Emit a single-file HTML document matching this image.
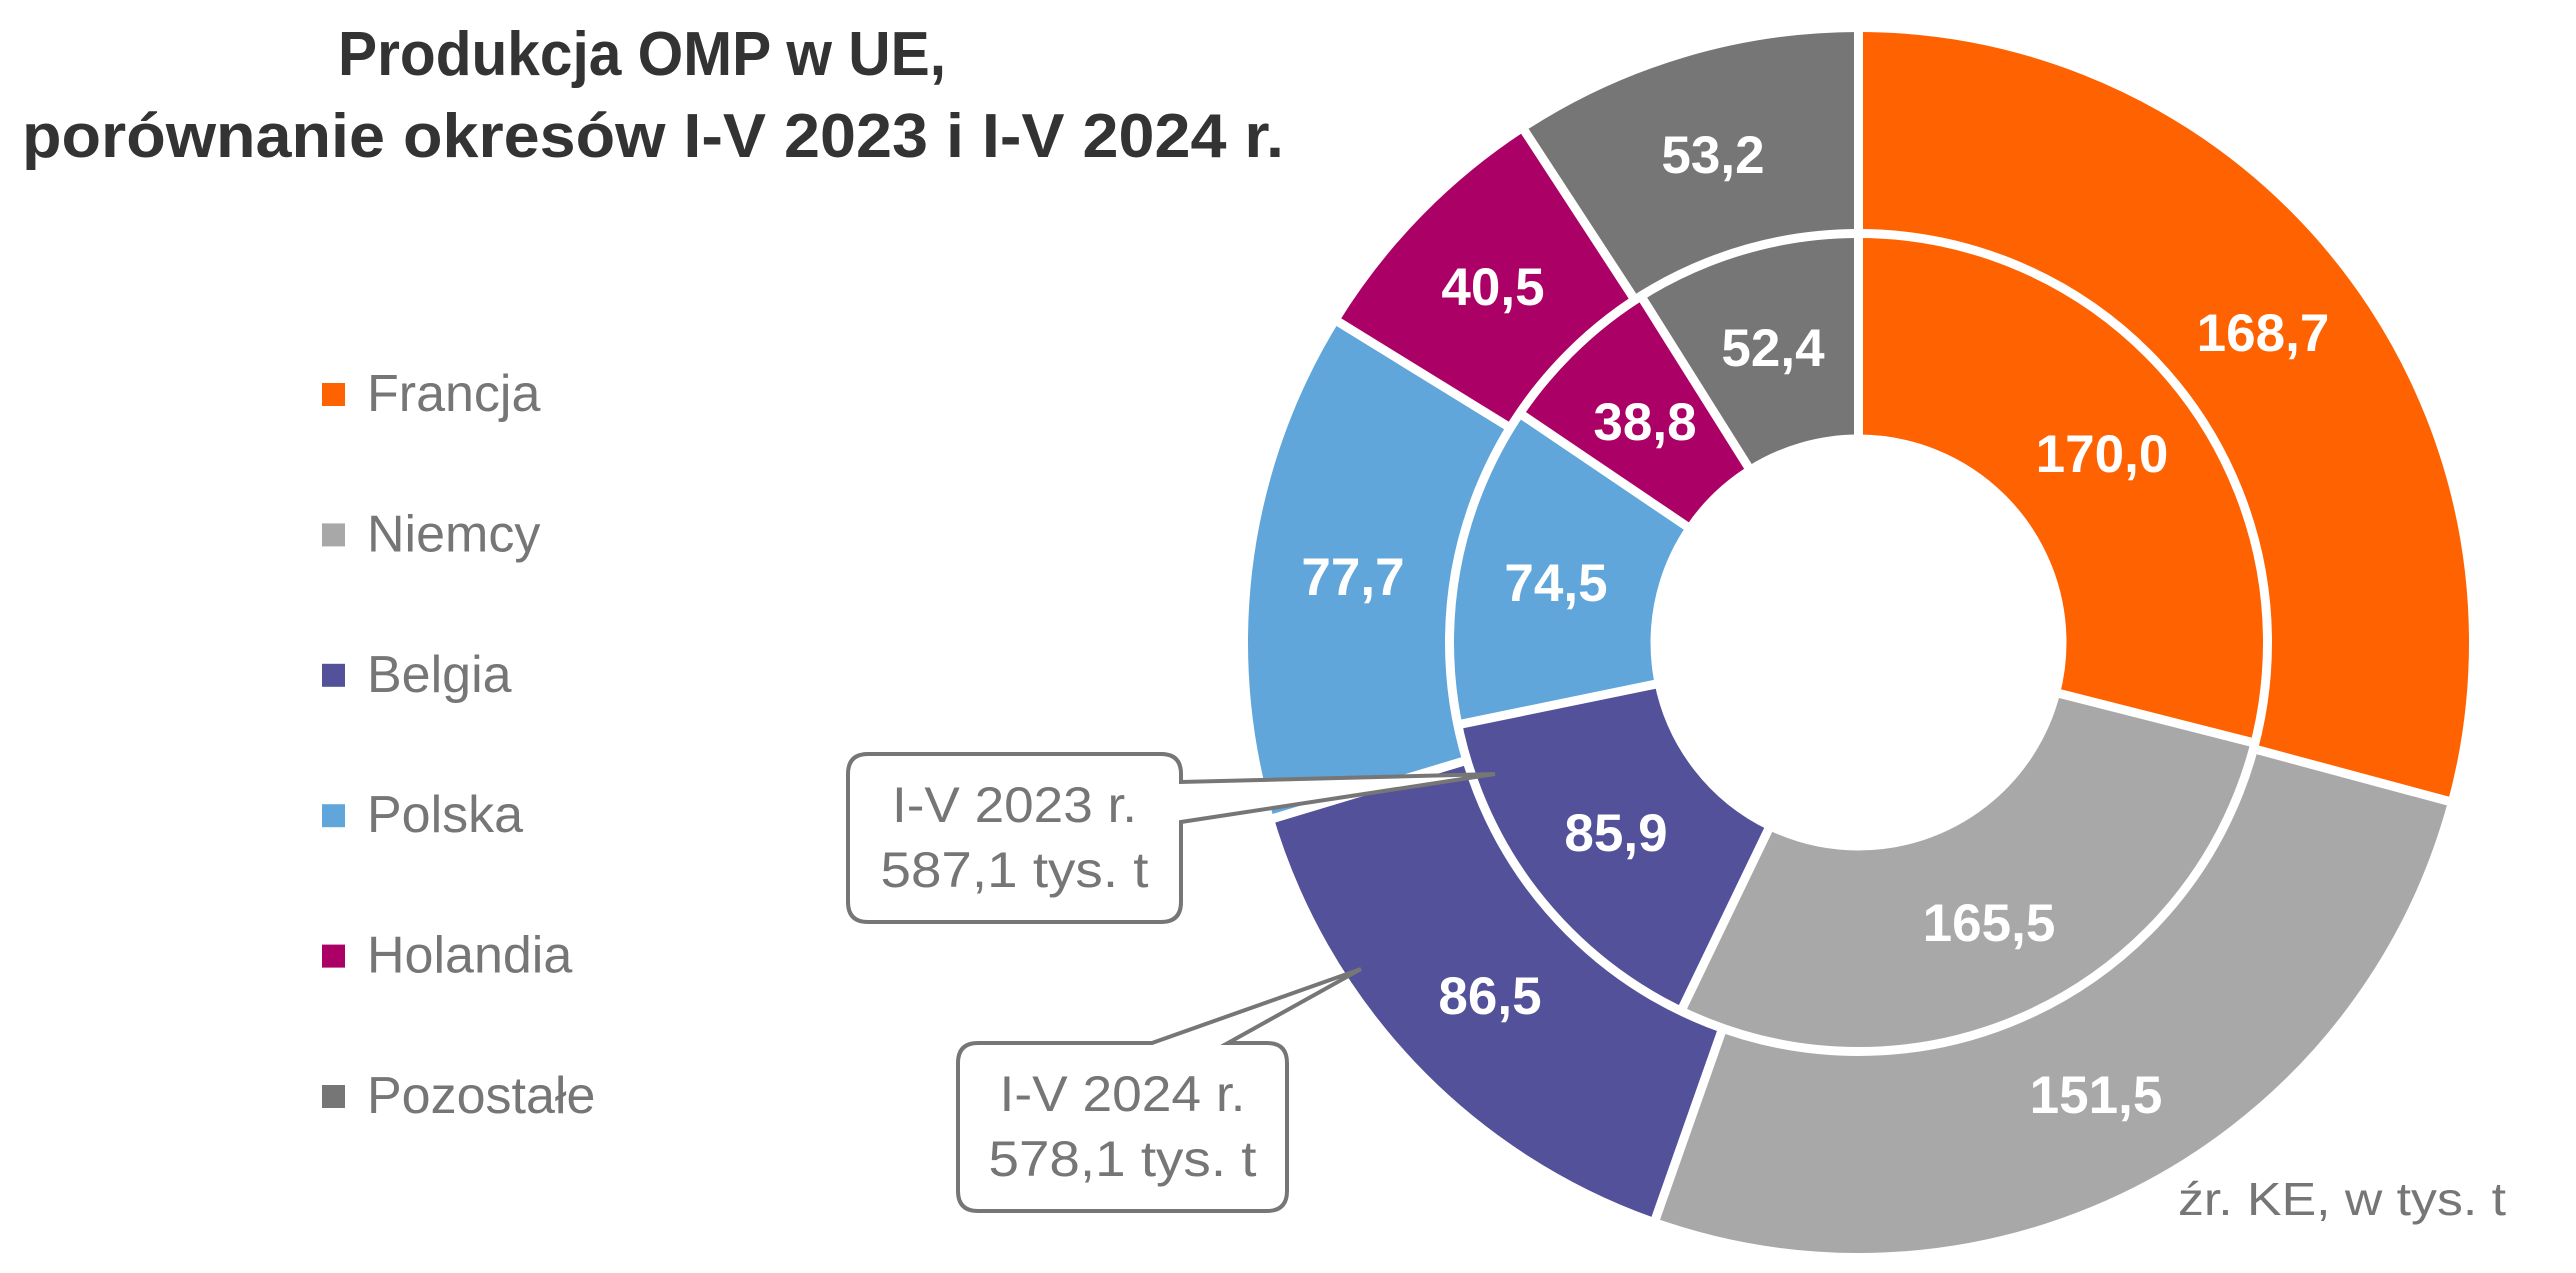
<!DOCTYPE html>
<html>
<head>
<meta charset="utf-8">
<style>
  html, body { margin:0; padding:0; background:#ffffff; width:2576px; height:1273px; overflow:hidden; }
  svg { display:block; }
  text { font-family: "Liberation Sans", "DejaVu Sans", sans-serif; }
</style>
</head>
<body>
<svg width="2576" height="1273" viewBox="0 0 2576 1273" xmlns="http://www.w3.org/2000/svg">
  <rect x="0" y="0" width="2576" height="1273" fill="#ffffff"/>

  <!-- Title -->
  <text x="338" y="75" font-size="62" font-weight="bold" fill="#333333" textLength="608" lengthAdjust="spacingAndGlyphs">Produkcja OMP w UE,</text>
  <text x="22" y="157" font-size="62" font-weight="bold" fill="#333333" textLength="1262" lengthAdjust="spacingAndGlyphs">porównanie okresów I-V 2023 i I-V 2024 r.</text>

  <!-- Legend -->
  <g font-size="52" fill="#767676">
    <rect x="322" y="383" width="23" height="23" fill="#FF6200"/>
    <text x="367" y="411">Francja</text>
    <rect x="322" y="523.4" width="23" height="23" fill="#A8A8A8"/>
    <text x="367" y="551.4">Niemcy</text>
    <rect x="322" y="663.8" width="23" height="23" fill="#525199"/>
    <text x="367" y="691.8">Belgia</text>
    <rect x="322" y="804.2" width="23" height="23" fill="#60A6DA"/>
    <text x="367" y="832.2">Polska</text>
    <rect x="322" y="944.6" width="23" height="23" fill="#AB0066"/>
    <text x="367" y="972.6">Holandia</text>
    <rect x="322" y="1085" width="23" height="23" fill="#767676"/>
    <text x="367" y="1113">Pozostałe</text>
  </g>

  <!-- Doughnut -->
  <g transform="translate(1858.5,642.5)">
    <!-- Inner ring (2023): r 208..409, mid 308.5 -->
    <g fill="none" stroke-width="201">
      <path d="M0,-308.5 A308.5,308.5 0 1 1 0,308.5 A308.5,308.5 0 1 1 0,-308.5" pathLength="360" stroke="#FF6200" stroke-dasharray="104.741 1000" stroke-dashoffset="0"/>
      <path d="M0,-308.5 A308.5,308.5 0 1 1 0,308.5 A308.5,308.5 0 1 1 0,-308.5" pathLength="360" stroke="#A8A8A8" stroke-dasharray="101.982 1000" stroke-dashoffset="-104.241"/>
      <path d="M0,-308.5 A308.5,308.5 0 1 1 0,308.5 A308.5,308.5 0 1 1 0,-308.5" pathLength="360" stroke="#525199" stroke-dasharray="53.173 1000" stroke-dashoffset="-205.723"/>
      <path d="M0,-308.5 A308.5,308.5 0 1 1 0,308.5 A308.5,308.5 0 1 1 0,-308.5" pathLength="360" stroke="#60A6DA" stroke-dasharray="46.182 1000" stroke-dashoffset="-258.396"/>
      <path d="M0,-308.5 A308.5,308.5 0 1 1 0,308.5 A308.5,308.5 0 1 1 0,-308.5" pathLength="360" stroke="#AB0066" stroke-dasharray="24.291 1000" stroke-dashoffset="-304.078"/>
      <path d="M0,-308.5 A308.5,308.5 0 1 1 0,308.5 A308.5,308.5 0 1 1 0,-308.5" pathLength="360" stroke="#767676" stroke-dasharray="32.131 1000" stroke-dashoffset="-327.869"/>
    </g>
    <!-- Outer ring (2024): r 409..610.5, mid 509.75 -->
    <g fill="none" stroke-width="201.5">
      <path d="M0,-509.75 A509.75,509.75 0 1 1 0,509.75 A509.75,509.75 0 1 1 0,-509.75" pathLength="360" stroke="#FF6200" stroke-dasharray="105.554 1000" stroke-dashoffset="0"/>
      <path d="M0,-509.75 A509.75,509.75 0 1 1 0,509.75 A509.75,509.75 0 1 1 0,-509.75" pathLength="360" stroke="#A8A8A8" stroke-dasharray="94.844 1000" stroke-dashoffset="-105.054"/>
      <path d="M0,-509.75 A509.75,509.75 0 1 1 0,509.75 A509.75,509.75 0 1 1 0,-509.75" pathLength="360" stroke="#525199" stroke-dasharray="54.367 1000" stroke-dashoffset="-199.398"/>
      <path d="M0,-509.75 A509.75,509.75 0 1 1 0,509.75 A509.75,509.75 0 1 1 0,-509.75" pathLength="360" stroke="#60A6DA" stroke-dasharray="48.885 1000" stroke-dashoffset="-253.265"/>
      <path d="M0,-509.75 A509.75,509.75 0 1 1 0,509.75 A509.75,509.75 0 1 1 0,-509.75" pathLength="360" stroke="#AB0066" stroke-dasharray="25.721 1000" stroke-dashoffset="-301.650"/>
      <path d="M0,-509.75 A509.75,509.75 0 1 1 0,509.75 A509.75,509.75 0 1 1 0,-509.75" pathLength="360" stroke="#767676" stroke-dasharray="33.129 1000" stroke-dashoffset="-326.871"/>
    </g>
    <!-- ring separator -->
    <circle r="409" fill="none" stroke="#ffffff" stroke-width="9"/>
    <g stroke="#ffffff" stroke-width="9">
      <line x1="0" y1="-200" x2="0" y2="-412" transform="rotate(0)"/>
      <line x1="0" y1="-200" x2="0" y2="-412" transform="rotate(104.241)"/>
      <line x1="0" y1="-200" x2="0" y2="-412" transform="rotate(205.723)"/>
      <line x1="0" y1="-200" x2="0" y2="-412" transform="rotate(258.396)"/>
      <line x1="0" y1="-200" x2="0" y2="-412" transform="rotate(304.078)"/>
      <line x1="0" y1="-200" x2="0" y2="-412" transform="rotate(327.869)"/>
      <line x1="0" y1="-406" x2="0" y2="-616" transform="rotate(0)"/>
      <line x1="0" y1="-406" x2="0" y2="-616" transform="rotate(105.054)"/>
      <line x1="0" y1="-406" x2="0" y2="-616" transform="rotate(199.398)"/>
      <line x1="0" y1="-406" x2="0" y2="-616" transform="rotate(253.265)"/>
      <line x1="0" y1="-406" x2="0" y2="-616" transform="rotate(301.650)"/>
      <line x1="0" y1="-406" x2="0" y2="-616" transform="rotate(326.871)"/>
    </g>
  </g>

  <!-- Data labels -->
  <g font-size="53" font-weight="bold" fill="#ffffff" text-anchor="middle">
    <text x="2263" y="351">168,7</text>
    <text x="2096" y="1113">151,5</text>
    <text x="1490" y="1014">86,5</text>
    <text x="1353" y="595">77,7</text>
    <text x="1493" y="305">40,5</text>
    <text x="1713" y="173">53,2</text>
    <text x="2102" y="472">170,0</text>
    <text x="1989" y="941">165,5</text>
    <text x="1616" y="851">85,9</text>
    <text x="1556" y="601">74,5</text>
    <text x="1645" y="440">38,8</text>
    <text x="1773" y="366">52,4</text>
  </g>

  <!-- Callout 1 (2023) -->
  <path d="M868,754 L1161,754 Q1181,754 1181,774 L1181,782 L1495,774 L1181,822 L1181,902 Q1181,922 1161,922 L868,922 Q848,922 848,902 L848,774 Q848,754 868,754 Z"
        fill="#ffffff" stroke="#767676" stroke-width="4" stroke-linejoin="miter"/>
  <g font-size="50" fill="#767676" text-anchor="middle">
    <text x="1014.5" y="822" textLength="245" lengthAdjust="spacingAndGlyphs">I-V 2023 r.</text>
    <text x="1014.5" y="887" textLength="268" lengthAdjust="spacingAndGlyphs">587,1 tys. t</text>
  </g>

  <!-- Callout 2 (2024) -->
  <path d="M978,1043 L1152,1043 L1361,969 L1228,1043 L1267,1043 Q1287,1043 1287,1063 L1287,1191 Q1287,1211 1267,1211 L978,1211 Q958,1211 958,1191 L958,1063 Q958,1043 978,1043 Z"
        fill="#ffffff" stroke="#767676" stroke-width="4" stroke-linejoin="miter"/>
  <g font-size="50" fill="#767676" text-anchor="middle">
    <text x="1122.5" y="1111" textLength="246" lengthAdjust="spacingAndGlyphs">I-V 2024 r.</text>
    <text x="1122.5" y="1176" textLength="268" lengthAdjust="spacingAndGlyphs">578,1 tys. t</text>
  </g>

  <!-- Source -->
  <text x="2178" y="1215" font-size="46" fill="#767676" textLength="328" lengthAdjust="spacingAndGlyphs">źr. KE, w tys. t</text>
</svg>
</body>
</html>
